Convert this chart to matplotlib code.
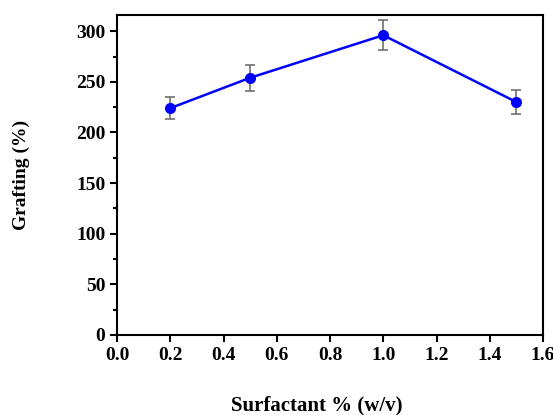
import matplotlib
matplotlib.use("Agg")
import matplotlib.pyplot as plt
from matplotlib.ticker import MultipleLocator, AutoMinorLocator

surfactant = [0.2, 0.5, 1.0, 1.5]
grafting = [224, 254, 296, 230]
grafting_err = [11, 13, 15, 12]

plt.rcParams['font.family'] = ['Liberation Serif', 'DejaVu Serif']
plt.rcParams['font.weight'] = 'bold'

fig = plt.figure(figsize=(5.53, 4.15), dpi=100)
ax = fig.add_axes([0.2116, 0.1928, 0.7704, 0.7711])

ax.errorbar(surfactant, grafting, yerr=grafting_err, color='#0000ff', lw=1.8,
            marker='o', ms=7, mfc='#0000ff', mec='#0000ff',
            ecolor='#707070', elinewidth=1.2, capsize=3.5, capthick=1.2, zorder=3)

ax.set_xlim(0, 1.6)
ax.set_ylim(0, 316)
ax.xaxis.set_major_locator(MultipleLocator(0.2))
ax.yaxis.set_major_locator(MultipleLocator(50))
ax.yaxis.set_minor_locator(AutoMinorLocator(2))
ax.xaxis.set_minor_locator(MultipleLocator(0.1))
ax.tick_params(axis='both', which='both', direction='out', top=False, right=False,
               labelsize=14, width=1.5)
ax.tick_params(axis='both', which='major', length=5)
ax.tick_params(axis='x', which='minor', length=0)
ax.tick_params(axis='y', which='minor', length=3)
ax.set_xticklabels([f"{v:.1f}" for v in ax.get_xticks()])
for lbl in ax.get_xticklabels() + ax.get_yticklabels():
    lbl.set_fontweight('bold')
for s in ax.spines.values():
    s.set_linewidth(1.5)

ax.set_xlabel('Surfactant % (w/v)', fontsize=15, fontweight='bold')
ax.xaxis.set_label_coords(0.47, -0.19)
ax.set_ylabel('Grafting (%)', fontsize=14, fontweight='bold', labelpad=33)

fig.savefig('out.png', dpi=100)
